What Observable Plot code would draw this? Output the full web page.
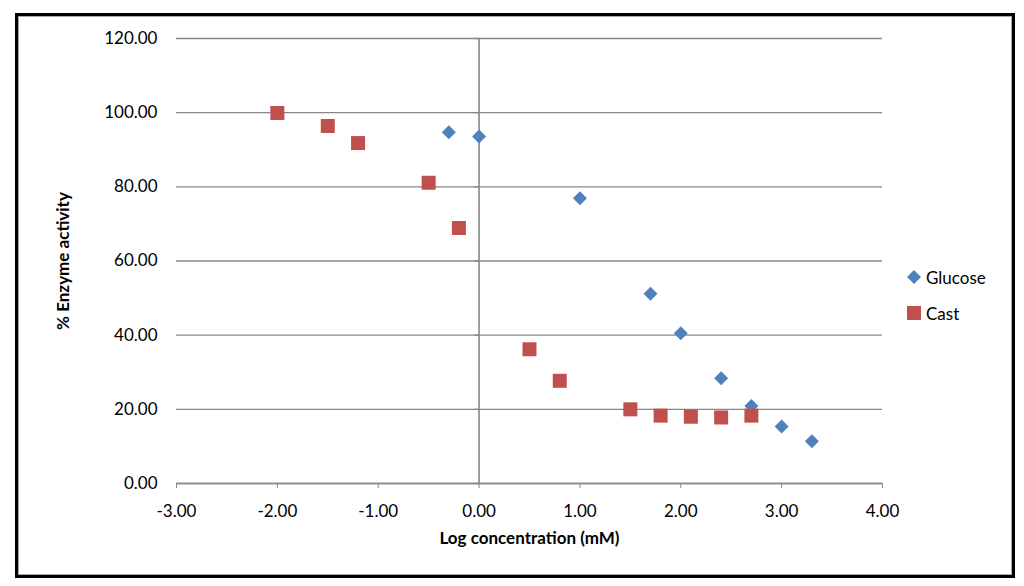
<!DOCTYPE html>
<html>
<head>
<meta charset="utf-8">
<script src="https://cdn.jsdelivr.net/npm/d3@7"></script>
<script src="https://cdn.jsdelivr.net/npm/@observablehq/plot@0.6"></script>
<style>
  html, body { margin: 0; padding: 0; background: #fff; width: 1024px; height: 586px; overflow: hidden; }
  #chart { position: absolute; left: 0; top: 0; }
  #frame { position: absolute; left: 15px; top: 13px; width: 1000px; height: 565px; box-sizing: border-box;
           border: 3.5px solid #000; box-shadow: inset 0 0 0 1px #a8a8a8; pointer-events: none; }
  #legend { position: absolute; left: 905px; top: 259px; font-family: Lato, "Open Sans", sans-serif; font-size: 17px; color: #000; }
  #legend .item { display: flex; align-items: center; height: 36px; }
  #legend svg { margin-right: 3px; }
  g[aria-label="x-axis label"] text, g[aria-label="y-axis label"] text { font-weight: bold; }
</style>
</head>
<body>
<div id="chart"></div>
<div id="frame"></div>
<div id="legend">
  <div class="item"><svg width="18" height="18" viewBox="-9 -9 18 18"><path d="M0,-7L7,0L0,7L-7,0Z" fill="#4f81bd"/></svg><span>Glucose</span></div>
  <div class="item"><svg width="18" height="18" viewBox="-9 -9 18 18"><rect x="-7" y="-7" width="14" height="14" fill="#c0504d"/></svg><span>Cast</span></div>
</div>
<script>
const glucoseX = [-0.3, 0, 1.0, 1.7, 2.0, 2.4, 2.7, 3.0, 3.3];
const glucoseY = [94.7, 93.6, 76.9, 51.2, 40.5, 28.4, 20.9, 15.4, 11.4];
const castX = [-2.0, -1.5, -1.2, -0.5, -0.2, 0.5, 0.8, 1.5, 1.8, 2.1, 2.4, 2.7];
const castY = [99.9, 96.4, 91.8, 81.1, 68.9, 36.2, 27.7, 20.0, 18.3, 18.0, 17.8, 18.3];
const xTicks = [-3, -2, -1, 0, 1, 2, 3, 4];
const yTicks = [0, 20, 40, 60, 80, 100, 120];

const glucose = glucoseX.map((x, i) => ({x, y: glucoseY[i]}));
const cast = castX.map((x, i) => ({x, y: castY[i]}));

const gray = "#878787";
const fmt = d => d.toFixed(2);
const leftTick = { draw(ctx, size) { ctx.moveTo(-5, 0); ctx.lineTo(0, 0); } };

const chart = Plot.plot({
  width: 1024,
  height: 586,
  marginLeft: 176,
  marginRight: 142,
  marginTop: 38,
  marginBottom: 103,
  style: { fontFamily: "Lato, 'Open Sans', sans-serif", fontSize: "17px", color: "#000", background: "transparent" },
  x: { domain: [-3, 4] },
  y: { domain: [0, 120] },
  marks: [
    Plot.gridY(yTicks, { stroke: gray, strokeOpacity: 1, strokeWidth: 1.3 }),
    Plot.ruleX([0], { stroke: gray, strokeWidth: 1.6 }),
    Plot.dot(yTicks, { x: 0, y: d => d, symbol: leftTick, stroke: gray, strokeWidth: 1.3, r: 3 }),
    Plot.ruleY([0], { stroke: gray, strokeWidth: 1.6 }),
    Plot.axisX(xTicks, { tickFormat: fmt, tickSize: 5, tickPadding: 16, stroke: gray,
      label: "Log concentration (mM)", labelAnchor: "center", labelArrow: "none", labelOffset: 60 }),
    Plot.axisY(yTicks, { tickFormat: fmt, tickSize: 0, tickPadding: 19,
      label: "% Enzyme activity", labelAnchor: "center", labelArrow: "none", labelOffset: 120 }),
    Plot.dot(glucose, { x: "x", y: "y", symbol: "diamond2", r: 6.3, fill: "#4f81bd", stroke: "none" }),
    Plot.dot(cast, { x: "x", y: "y", symbol: "square", r: 7.9, fill: "#c0504d", stroke: "none" })
  ]
});
document.getElementById("chart").appendChild(chart);
</script>
</body>
</html>
